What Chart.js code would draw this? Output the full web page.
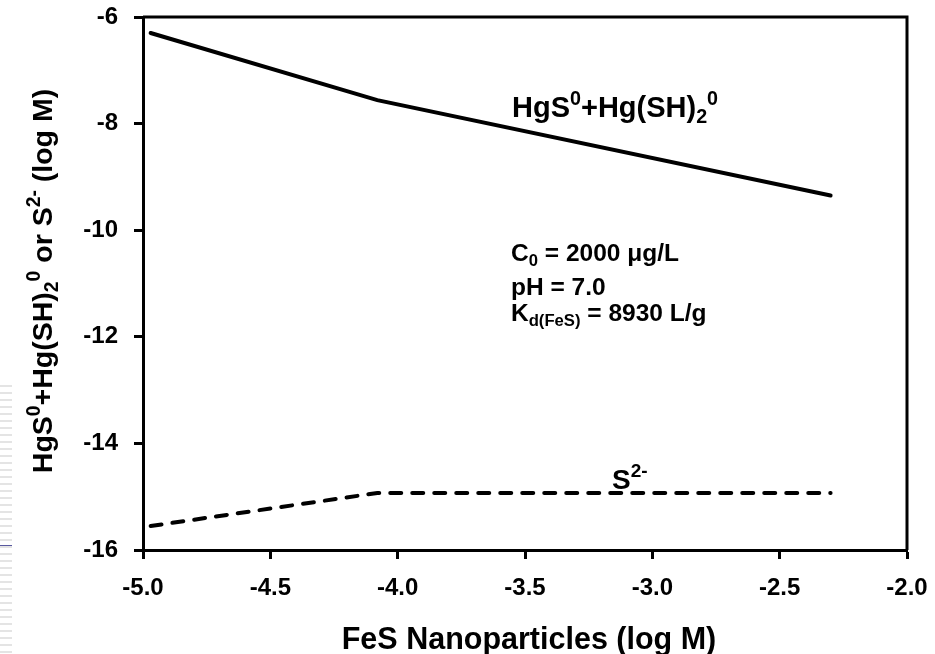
<!DOCTYPE html>
<html>
<head>
<meta charset="utf-8">
<script src="https://cdn.jsdelivr.net/npm/chart.js@4.4.1/dist/chart.umd.min.js"></script>
<style>
  html, body { margin: 0; padding: 0; background: #fff; }
  #wrap { width: 935px; height: 654px; position: relative; }
</style>
</head>
<body>
<div id="wrap"><canvas id="chart"></canvas></div>
<script>
// FeS nanoparticle dose (log M) and the two computed species (log M)
const fesLog = [-4.97, -4.08, -2.30];
const hgsNeutral = [-6.30, -7.56, -9.35];
const sulfide = [-15.55, -14.93, -14.93];

const xTicks = [-5.0, -4.5, -4.0, -3.5, -3.0, -2.5, -2.0];
const yTicks = [-16, -14, -12, -10, -8, -6];

const FONT = 'Arial, "Liberation Sans", sans-serif';

function toPoints(xs, ys) {
  return xs.map((x, i) => ({ x, y: ys[i] }));
}

// draw text with sup/sub parts, left aligned at baseline y
function richWidth(ctx, parts, size) {
  let w = 0;
  parts.forEach(p => {
    const s = p.s ? size * 0.68 : size;
    ctx.font = `bold ${s}px ${FONT}`;
    w += ctx.measureText(p.t).width;
  });
  return w;
}
function drawRich(ctx, parts, x, y, size) {
  let cx = x;
  parts.forEach(p => {
    let s = size, dy = 0;
    if (p.s === 'sup') { s = size * 0.68; dy = -size * 0.42; }
    if (p.s === 'sub') { s = size * 0.68; dy = size * 0.22; }
    ctx.font = `bold ${s}px ${FONT}`;
    ctx.fillText(p.t, cx, y + dy);
    cx += ctx.measureText(p.t).width;
  });
}

const yTitle = [
  { t: 'HgS' }, { t: '0', s: 'sup' }, { t: '+Hg(SH)' }, { t: '2', s: 'sub' },
  { t: '0', s: 'sup' }, { t: ' or S' }, { t: '2-', s: 'sup' }, { t: ' (log M)' }
];
const hgsLabel = [
  { t: 'HgS' }, { t: '0', s: 'sup' }, { t: '+Hg(SH)' }, { t: '2', s: 'sub' }, { t: '0', s: 'sup' }
];
const sLabel = [{ t: 'S' }, { t: '2-', s: 'sup' }];
const infoLines = [
  [{ t: 'C' }, { t: '0', s: 'sub' }, { t: ' = 2000 \u03bcg/L' }],
  [{ t: 'pH = 7.0' }],
  [{ t: 'K' }, { t: 'd(FeS)', s: 'sub' }, { t: ' = 8930 L/g' }]
];

const decor = {
  id: 'decor',
  afterDraw(chart) {
    const ctx = chart.ctx;
    const a = chart.chartArea;
    ctx.save();
    // frame
    ctx.strokeStyle = '#000';
    ctx.lineWidth = 3;
    ctx.beginPath();
    ctx.moveTo(a.left, a.top);
    ctx.lineTo(a.right, a.top);
    ctx.lineTo(a.right, a.bottom);
    ctx.stroke();

    ctx.fillStyle = '#000';
    ctx.textBaseline = 'alphabetic';
    ctx.textAlign = 'left';

    // axis titles
    ctx.font = `bold 30.5px ${FONT}`;
    const xt = 'FeS Nanoparticles (log M)';
    const xw = ctx.measureText(xt).width;
    ctx.fillText(xt, 529 - xw / 2, 649);

    ctx.save();
    ctx.translate(52, 281);
    ctx.rotate(-Math.PI / 2);
    const yw = richWidth(ctx, yTitle, 28.5);
    drawRich(ctx, yTitle, -yw / 2, 0, 28.5);
    ctx.restore();

    // in-plot labels
    drawRich(ctx, hgsLabel, 512, 117, 29);
    drawRich(ctx, sLabel, 612, 489, 28);
    drawRich(ctx, infoLines[0], 511, 261, 24.5);
    drawRich(ctx, infoLines[1], 511, 295, 24.5);
    drawRich(ctx, infoLines[2], 511, 321, 24.5);

    // faint scan stripes at the left edge
    ctx.fillStyle = '#e4e4e4';
    for (let y = 385; y < 654; y += 7) ctx.fillRect(0, y, 12, 2);
    ctx.fillStyle = '#5a5aa0';
    ctx.fillRect(0, 545, 12, 1);
    ctx.restore();
  }
};

const axisCommon = {
  type: 'linear',
  border: { display: true, color: '#000', width: 3 },
  grid: { drawOnChartArea: false, drawTicks: true, tickLength: 9, tickWidth: 3, tickColor: '#000', color: '#000' }
};

new Chart(document.getElementById('chart'), {
  type: 'scatter',
  data: {
    datasets: [
      {
        label: 'HgS0+Hg(SH)20',
        data: toPoints(fesLog, hgsNeutral),
        showLine: true,
        borderColor: '#000',
        borderWidth: 4,
        borderCapStyle: 'round',
        pointRadius: 0,
        tension: 0
      },
      {
        label: 'S2-',
        data: toPoints(fesLog, sulfide),
        showLine: true,
        borderColor: '#000',
        borderWidth: 4,
        borderDash: [11, 11],
        borderCapStyle: 'round',
        pointRadius: 0,
        tension: 0
      }
    ]
  },
  options: {
    responsive: true,
    maintainAspectRatio: false,
    animation: false,
    layout: { padding: { top: 17, right: 28, left: 0, bottom: 0 } },
    plugins: {
      legend: { display: false },
      tooltip: { enabled: false }
    },
    scales: {
      x: {
        ...axisCommon,
        min: -5,
        max: -2,
        afterBuildTicks: s => { s.ticks = xTicks.map(v => ({ value: v })); },
        afterFit: s => { s.height = 104; s.paddingLeft = 0; s.paddingRight = 0; },
        ticks: {
          color: '#000',
          padding: 15,
          maxRotation: 0,
          font: { family: FONT, weight: 'bold', size: 24 },
          callback: v => Number(v).toFixed(1)
        }
      },
      y: {
        ...axisCommon,
        min: -16,
        max: -6,
        afterBuildTicks: s => { s.ticks = yTicks.map(v => ({ value: v })); },
        afterFit: s => { s.width = 143; s.paddingTop = 0; s.paddingBottom = 0; },
        ticks: {
          color: '#000',
          padding: 16,
          font: { family: FONT, weight: 'bold', size: 24 },
          callback: v => String(v)
        }
      }
    }
  },
  plugins: [decor]
});
</script>
</body>
</html>
